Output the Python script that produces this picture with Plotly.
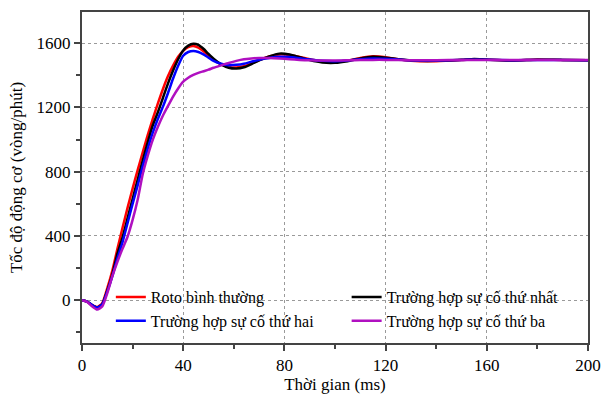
import plotly.graph_objects as go

t_ms = [0, 2, 4, 6, 8, 10, 12, 14, 16, 18, 20, 22, 24, 26, 28, 30, 32, 34, 36, 38, 40,
        42, 44, 46, 48, 50, 52, 55, 58, 61, 64, 67, 70, 74, 78, 82, 86, 90, 95, 100,
        105, 110, 115, 120, 125, 130, 140, 150, 155, 160, 170, 180, 190, 200]

roto_binh_thuong = [0, -8, -30, -42, -18, 75, 185, 320, 450, 575, 695, 810, 920, 1030, 1130,
                    1225, 1315, 1395, 1460, 1515, 1552, 1575, 1582, 1572, 1550, 1522, 1497,
                    1468, 1452, 1448, 1456, 1474, 1495, 1517, 1530, 1527, 1514, 1500, 1488,
                    1485, 1492, 1508, 1518, 1512, 1500, 1491, 1488, 1495, 1500, 1497, 1492,
                    1498, 1495, 1494]

su_co_thu_nhat = [0, -8, -30, -45, -25, 60, 160, 290, 390, 510, 630, 750, 870, 985, 1090,
                  1170, 1260, 1350, 1430, 1500, 1555, 1585, 1597, 1590, 1565, 1533, 1503,
                  1468, 1447, 1442, 1450, 1470, 1493, 1518, 1535, 1530, 1513, 1495, 1480,
                  1478, 1488, 1505, 1515, 1510, 1500, 1492, 1490, 1497, 1502, 1498, 1492,
                  1497, 1496, 1494]

su_co_thu_hai = [0, -8, -30, -45, -25, 55, 150, 260, 360, 480, 600, 715, 835, 945, 1045,
                 1130, 1205, 1290, 1380, 1460, 1522, 1545, 1551, 1545, 1530, 1510, 1490,
                 1472, 1463, 1465, 1472, 1485, 1497, 1508, 1515, 1514, 1506, 1498, 1490,
                 1488, 1492, 1500, 1505, 1503, 1498, 1493, 1492, 1496, 1497, 1497, 1494,
                 1496, 1495, 1494]

su_co_thu_ba = [0, -10, -38, -58, -38, 45, 150, 240, 320, 395, 500, 625, 785, 900, 1000,
                1080, 1150, 1210, 1268, 1318, 1360, 1385, 1402, 1415, 1425, 1435, 1447,
                1462, 1477, 1490, 1500, 1505, 1508, 1508, 1505, 1500, 1496, 1493, 1492,
                1492, 1493, 1495, 1496, 1496, 1495, 1494, 1494, 1495, 1495, 1495, 1495,
                1495, 1495, 1495]

names = ["Roto bình thường", "Trường hợp sự cố thứ nhất",
         "Trường hợp sự cố thứ hai", "Trường hợp sự cố thứ ba"]
series = [roto_binh_thuong, su_co_thu_nhat, su_co_thu_hai, su_co_thu_ba]
colors = ["#ff0000", "#000000", "#0000ff", "#b010c0"]
legend_ids = ["legend", "legend2", "legend", "legend2"]

x_ticks = [0, 40, 80, 120, 160, 200]
y_ticks = [0, 400, 800, 1200, 1600]

FONT = "'Liberation Serif', 'DejaVu Serif', 'Times New Roman', serif"
font17 = dict(family=FONT, size=17, color="black")
font16 = dict(family=FONT, size=16, color="black")

fig = go.Figure()
for name, ys, c, lg in zip(names, series, colors, legend_ids):
    fig.add_trace(go.Scatter(x=t_ms, y=ys, name=name, mode="lines", legend=lg,
                             line=dict(color=c, width=2.5, shape="spline", smoothing=0.6)))

axis_common = dict(
    showline=True, linecolor="#444444", linewidth=2, mirror=True,
    ticks="outside", ticklen=6, tickwidth=1.5, tickcolor="#444444",
    showgrid=True, gridcolor="#9a9a9a", gridwidth=1, griddash="dot",
    zeroline=False, tickfont=font17,
)

fig.update_xaxes(**axis_common, range=[0, 200], tickvals=x_ticks,
                 minor=dict(dtick=20, tick0=0, ticks="outside", ticklen=4,
                            tickcolor="#444444", showgrid=False),
                 title=dict(text="Thời gian (ms)", font=font17, standoff=2))
fig.update_yaxes(**axis_common, range=[-266, 1794], tickvals=y_ticks,
                 minor=dict(dtick=200, tick0=-200, ticks="outside", ticklen=4,
                            tickcolor="#444444", showgrid=False),
                 title=dict(text="Tốc độ động cơ (vòng/phút)", font=font17, standoff=10))

legend_common = dict(orientation="v", xanchor="left", yanchor="top",
                     bgcolor="rgba(0,0,0,0)", font=font16, tracegroupgap=0)

fig.update_layout(
    width=601, height=394,
    margin=dict(l=82, r=13, t=12, b=51, autoexpand=False),
    paper_bgcolor="white", plot_bgcolor="white",
    font=font17,
    legend=dict(**legend_common, x=0.057, y=0.19),
    legend2=dict(**legend_common, x=0.523, y=0.19),
)

fig.write_html("out.html")
